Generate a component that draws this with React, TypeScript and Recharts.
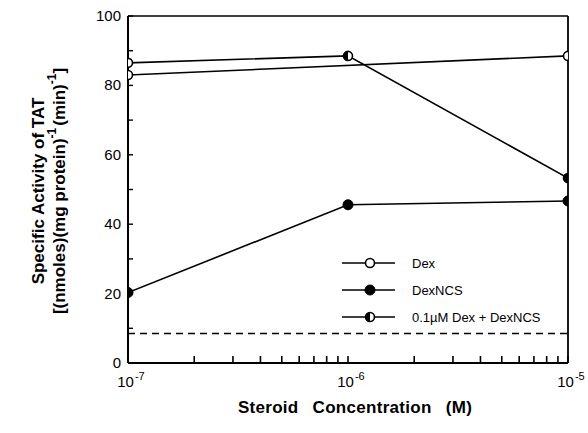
import React from "react";
import {
  LineChart,
  Line,
  XAxis,
  YAxis,
  ReferenceLine,
  Legend,
} from "recharts";

// ── Data ────────────────────────────────────────────────────────────
const concentrations = [1e-7, 1e-6, 1e-5];
const dex = [83, null, 88.5];
const dexNcs = [20.3, 45.6, 46.7];
const dexPlusNcs = [86.5, 88.5, 53.3];
const baselineLevel = 8.5;

const decadeTicks = [1e-7, 1e-6, 1e-5];
const decadeLabels = ["-7", "-6", "-5"];
const minorMultipliers = [2, 3, 4, 5, 6, 7, 8, 9];
const yTicks = [0, 10, 20, 30, 40, 50, 60, 70, 80, 90, 100];
const yLabelTicks = [0, 20, 40, 60, 80, 100];

const seriesNames = ["Dex", "DexNCS", "0.1\u00b5M Dex + DexNCS"];

const rows = concentrations.map((c, i) => ({
  conc: c,
  dex: dex[i],
  dexNcs: dexNcs[i],
  dexPlusNcs: dexPlusNcs[i],
}));

const xTicks = [
  ...decadeTicks,
  ...decadeTicks.slice(0, 2).flatMap((d) => minorMultipliers.map((m) => m * d)),
].sort((a, b) => a - b);

const FONT = "'Liberation Sans', Arial, Helvetica, sans-serif";

// ── Markers ─────────────────────────────────────────────────────────
function Marker({ kind, cx, cy }: { kind: string; cx: number; cy: number }) {
  if (kind === "open") {
    return <circle cx={cx} cy={cy} r={4.5} fill="#fff" stroke="#000" strokeWidth={1.6} />;
  }
  if (kind === "filled") {
    return <circle cx={cx} cy={cy} r={5} fill="#000" stroke="#000" strokeWidth={1} />;
  }
  const r = 4.5;
  return (
    <g>
      <circle cx={cx} cy={cy} r={r} fill="#fff" stroke="#000" strokeWidth={1.6} />
      <path d={`M ${cx} ${cy - r} A ${r} ${r} 0 0 0 ${cx} ${cy + r} Z`} fill="#000" />
    </g>
  );
}

const markerKinds = ["open", "filled", "half"];

const makeDot = (kind: string) => (props: any) => {
  const { cx, cy, index } = props;
  if (cx == null || cy == null || Number.isNaN(cy)) return <g key={`e-${kind}-${index}`} />;
  return (
    <g key={`${kind}-${index}`}>
      <Marker kind={kind} cx={cx} cy={cy} />
    </g>
  );
};

// ── Axis ticks ──────────────────────────────────────────────────────
function XTick(props: any) {
  const { x, y, payload } = props;
  const v = payload.value;
  const di = decadeTicks.findIndex((d) => Math.abs(d - v) / d < 1e-6);
  const major = di >= 0;
  return (
    <g>
      <path d={`M ${x} ${y} L ${x} ${y - 7}`} stroke="#000" strokeWidth={1.6} fill="none" />
      {major && (
        <text x={x + 3} y={y + 24} textAnchor="middle" fontFamily={FONT} fontSize={15} fill="#000">
          10
          <tspan dy={-7} dx={1} fontSize={11}>
            {decadeLabels[di]}
          </tspan>
        </text>
      )}
    </g>
  );
}

function YTickLeft(props: any) {
  const { x, y, payload } = props;
  const major = yLabelTicks.includes(payload.value);
  return (
    <g>
      <path d={`M ${x} ${y} L ${x + 5} ${y}`} stroke="#000" strokeWidth={1.4} fill="none" />
      {major && (
        <text x={x - 7} y={y + 5} textAnchor="end" fontFamily={FONT} fontSize={15} fill="#000">
          {payload.value}
        </text>
      )}
    </g>
  );
}

function YTickRight(props: any) {
  const { x, y } = props;
  return <path d={`M ${x} ${y} L ${x - 5} ${y}`} stroke="#000" strokeWidth={1.4} fill="none" />;
}

// ── Axis titles ─────────────────────────────────────────────────────
function YTitle() {
  const cy = 191;
  return (
    <g fontFamily={FONT} fontWeight="bold" fontSize={17} fill="#000">
      <text transform={`translate(38, ${cy}) rotate(-90)`} textAnchor="middle" dominantBaseline="central">
        Specific Activity of TAT
      </text>
      <text transform={`translate(59, ${cy}) rotate(-90)`} textAnchor="middle" dominantBaseline="central">
        [(nmoles)(mg protein)
        <tspan dy={-7} fontSize={12}>-1</tspan>
        <tspan dy={7} dx={2}>(min)</tspan>
        <tspan dy={-7} fontSize={12}>-1</tspan>
        <tspan dy={7}>]</tspan>
      </text>
    </g>
  );
}

function XTitle() {
  return (
    <text
      x={355}
      y={413}
      textAnchor="middle"
      fontFamily={FONT}
      fontWeight="bold"
      fontSize={17}
      wordSpacing={9}
      letterSpacing={0.3}
      fill="#000"
    >
      Steroid Concentration (M)
    </text>
  );
}

// ── Legend ──────────────────────────────────────────────────────────
function LegendBox() {
  return (
    <svg width={240} height={80}>
      {seriesNames.map((name, i) => {
        const cy = 10 + i * 27;
        return (
          <g key={name}>
            <line x1={6} y1={cy} x2={59} y2={cy} stroke="#000" strokeWidth={1.6} />
            <Marker kind={markerKinds[i]} cx={34} cy={cy} />
            <text x={76} y={cy + 4.5} fontFamily={FONT} fontSize={13} fill="#000">
              {name}
            </text>
          </g>
        );
      })}
    </svg>
  );
}

export default function App() {
  return (
    <div style={{ position: "absolute", left: 0, top: 0, background: "#fff" }}>
      <LineChart
        width={588}
        height={433}
        data={rows}
        margin={{ top: 15, right: 19, bottom: 30, left: 88 }}
      >
        <XAxis
          dataKey="conc"
          type="number"
          scale="log"
          domain={[1e-7, 1e-5]}
          allowDataOverflow
          ticks={xTicks}
          interval={0}
          tick={<XTick />}
          tickLine={false}
          tickSize={0}
          tickMargin={0}
          height={40}
          axisLine={{ stroke: "#000", strokeWidth: 2 }}
        />
        <XAxis
          xAxisId="top"
          orientation="top"
          dataKey="conc"
          type="number"
          scale="log"
          domain={[1e-7, 1e-5]}
          allowDataOverflow
          tick={false}
          tickLine={false}
          height={1}
          axisLine={{ stroke: "#000", strokeWidth: 1.6 }}
        />
        <YAxis
          yAxisId="left"
          type="number"
          domain={[0, 100]}
          ticks={yTicks}
          interval={0}
          tick={<YTickLeft />}
          tickLine={false}
          tickSize={0}
          tickMargin={0}
          width={40}
          axisLine={{ stroke: "#000", strokeWidth: 2 }}
        />
        <YAxis
          yAxisId="right"
          orientation="right"
          type="number"
          domain={[0, 100]}
          ticks={yTicks}
          interval={0}
          tick={<YTickRight />}
          tickLine={false}
          tickSize={0}
          tickMargin={0}
          width={1}
          axisLine={{ stroke: "#000", strokeWidth: 1.8 }}
        />
        <ReferenceLine
          yAxisId="left"
          y={baselineLevel}
          stroke="#000"
          strokeWidth={1.6}
          strokeDasharray="7 5"
        />
        <Line
          yAxisId="left"
          dataKey="dex"
          name={seriesNames[0]}
          stroke="#000"
          strokeWidth={1.6}
          connectNulls
          dot={makeDot("open")}
          isAnimationActive={false}
        />
        <Line
          yAxisId="left"
          dataKey="dexNcs"
          name={seriesNames[1]}
          stroke="#000"
          strokeWidth={1.6}
          dot={makeDot("filled")}
          isAnimationActive={false}
        />
        <Line
          yAxisId="left"
          dataKey="dexPlusNcs"
          name={seriesNames[2]}
          stroke="#000"
          strokeWidth={1.6}
          dot={makeDot("half")}
          isAnimationActive={false}
        />
        <Legend
          layout="vertical"
          align="center"
          verticalAlign="middle"
          content={() => <LegendBox />}
          wrapperStyle={{ position: "absolute", left: 336, top: 253, width: 240, height: 80 }}
        />
        <YTitle />
        <XTitle />
      </LineChart>
    </div>
  );
}
